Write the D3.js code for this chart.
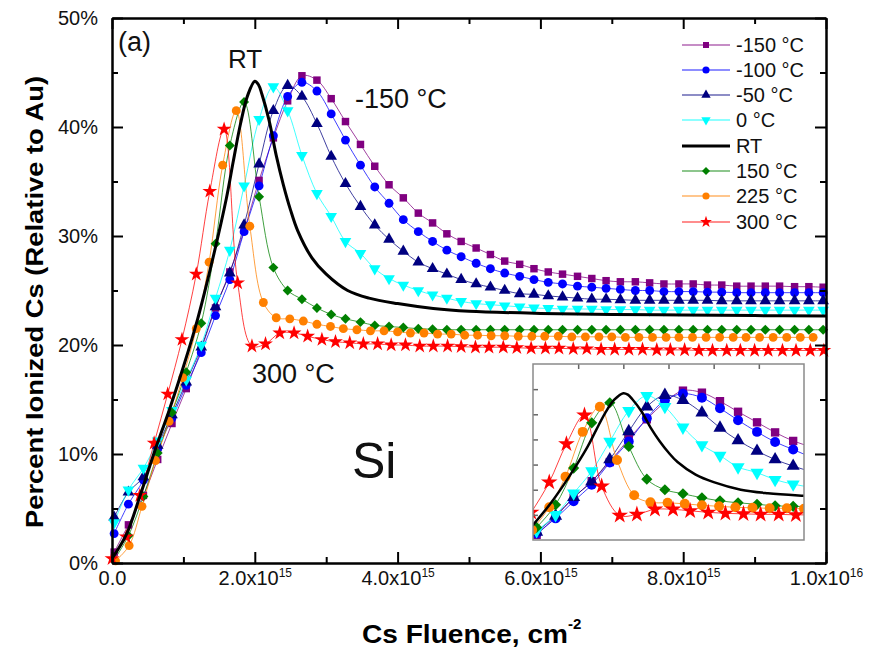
<!DOCTYPE html>
<html>
<head>
<meta charset="utf-8">
<script src="https://cdn.jsdelivr.net/npm/d3@7"></script>
<style>
body { margin: 0; background: #fff; }
svg { display: block; font-family: "Liberation Sans", Arial, sans-serif; }
</style>
</head>
<body>
<script>
// fluence values in units of 1e15 cm^-2
var fluenceA = [0.03,0.23,0.44,0.64,0.84,1.04,1.25,1.45,1.65,1.85,2.06,2.26,2.46,2.66,2.87,3.07,3.27,3.48,3.68,3.88,
  4.08,4.29,4.49,4.69,4.89,5.10,5.30,5.50,5.71,5.91,6.11,6.31,6.52,6.72,6.92,7.12,7.33,7.53,7.73,7.94,
  8.14,8.34,8.54,8.75,8.95,9.15,9.35,9.56,9.76,9.96];
var fluence225 = [0.05,0.24,0.42,0.61,0.80,0.99,1.18,1.36,1.55,1.74,1.93,2.12,2.30,2.49,2.68,2.87,3.06,3.24,3.43,3.62,
  3.81,4.00,4.18,4.37,4.56,4.75,4.94,5.12,5.31,5.50,5.69,5.88,6.06,6.25,6.44,6.63,6.82,7.00,7.19,7.38,
  7.57,7.76,7.94,8.13,8.32,8.51,8.70,8.88,9.07,9.26,9.45,9.64,9.82];
var fluence300 = [0.00,0.20,0.39,0.59,0.78,0.98,1.18,1.37,1.57,1.76,1.96,2.15,2.35,2.55,2.74,2.94,3.13,3.33,3.52,3.72,
  3.91,4.11,4.31,4.50,4.70,4.89,5.09,5.28,5.48,5.67,5.87,6.07,6.26,6.46,6.65,6.85,7.04,7.24,7.43,7.63,
  7.82,8.02,8.22,8.41,8.61,8.80,9.00,9.19,9.39,9.58,9.78,9.97];
var fluenceRT = [0,0.2,0.4,0.6,0.8,1.0,1.2,1.4,1.6,1.7,1.8,1.9,2.0,2.05,2.1,2.2,2.3,2.4,2.5,2.6,2.8,3.0,3.3,3.6,4.0,4.5,5.0,6.0,7.0,8.0,9.0,10.0];

// percent ionized Cs
var pctM150 = [1.0,3.5,6.2,9.5,12.8,16.0,19.6,23.4,26.7,30.5,35.1,39.0,42.4,44.7,44.3,42.6,40.5,38.4,36.4,34.7,
  33.5,32.1,31.2,30.2,29.5,28.9,28.3,27.7,27.4,27.0,26.7,26.5,26.3,26.1,25.9,25.8,25.8,25.7,25.6,25.6,
  25.6,25.5,25.5,25.4,25.4,25.4,25.4,25.35,25.35,25.3];
var pctM100 = [2.7,5.4,7.6,10.5,13.3,16.3,19.3,22.7,26.0,30.4,34.6,39.2,42.8,44.1,43.3,41.2,38.8,36.5,34.5,33.0,
  31.5,30.4,29.5,28.7,28.1,27.5,27.0,26.6,26.3,26.0,25.75,25.6,25.4,25.3,25.2,25.1,25.0,25.0,24.9,24.9,
  24.9,24.85,24.85,24.8,24.8,24.8,24.8,24.8,24.8,24.8];
var pctM50 = [4.2,6.5,7.9,10.8,13.6,16.6,19.8,23.5,26.6,31.0,36.6,41.5,43.8,42.8,40.3,37.3,34.8,32.7,31.0,29.7,
  28.6,27.6,27.0,26.5,26.0,25.6,25.3,25.0,24.7,24.65,24.5,24.4,24.3,24.2,24.2,24.15,24.1,24.1,24.1,24.1,
  24.1,24.1,24.05,24.05,24.05,24.05,24.05,24.05,24.05,24.05];
var pct0 = [3.7,6.7,8.7,11.2,14.0,16.8,20.0,24.3,28.7,34.6,40.7,43.7,41.5,37.4,33.9,31.8,29.5,28.4,27.0,26.1,
  25.5,25.0,24.6,24.3,24.0,23.8,23.7,23.6,23.5,23.4,23.35,23.3,23.3,23.3,23.25,23.25,23.25,23.2,23.2,23.2,
  23.2,23.2,23.2,23.2,23.2,23.2,23.2,23.2,23.2,23.2];
var pctRT = [0.4,2.6,6.3,10.3,14.0,18.0,22.4,27.6,33.4,36.9,40.3,42.9,44.2,43.9,43.0,40.6,37.4,34.7,32.4,30.5,
  28.0,26.5,25.0,24.3,23.8,23.35,23.1,22.9,22.8,22.75,22.7,22.65];
var pct150 = [0.3,2.5,6.1,10.1,13.8,17.5,22.0,29.3,38.3,42.3,33.6,27.1,25.0,24.2,23.4,22.8,22.4,22.1,21.8,21.7,
  21.6,21.5,21.45,21.4,21.4,21.4,21.4,21.4,21.4,21.4,21.4,21.4,21.4,21.4,21.4,21.4,21.4,21.4,21.4,21.4,
  21.4,21.4,21.4,21.4,21.4,21.4,21.4,21.4,21.4,21.4];
var pct225 = [0.2,1.6,5.2,9.4,13.0,17.0,21.5,27.6,36.5,41.5,30.9,23.9,22.5,22.4,22.2,21.9,21.7,21.5,21.4,21.3,
  21.3,21.2,21.1,21.1,21.0,21.0,20.9,20.9,20.85,20.85,20.8,20.8,20.8,20.8,20.75,20.75,20.75,20.75,20.7,20.7,
  20.7,20.7,20.7,20.7,20.7,20.7,20.7,20.7,20.7,20.7,20.7,20.7,20.7];
var pct300 = [0.4,2.4,6.2,11.0,15.5,20.5,26.5,34.1,39.8,25.7,19.9,20.1,21.1,21.1,20.8,20.5,20.3,20.2,20.1,20.1,
  20.0,20.0,19.9,19.9,19.9,19.85,19.8,19.8,19.8,19.75,19.7,19.7,19.7,19.65,19.65,19.6,19.6,19.6,19.6,19.55,
  19.55,19.55,19.5,19.5,19.5,19.5,19.5,19.5,19.5,19.5,19.5,19.5];

var seriesNames = ["-150 °C","-100 °C","-50 °C","0 °C","RT","150 °C","225 °C","300 °C"];

// axis ticks
var yTicks = [0,10,20,30,40,50];
var yMinor = [5,15,25,35,45];
var xTicks = [0,2,4,6,8,10];
var xMinor = [1,3,5,7,9];
var xTickBase = ["0.0","2.0x10","4.0x10","6.0x10","8.0x10","1.0x10"];
var xTickExp = ["","15","15","15","15","16"];
var insetXTicks = [1.5,2,2.5,3,3.5];
var insetYTicks = [20,25,30,35,40,45];

var w = 872, h = 655;
var svg = d3.select("body").append("svg")
  .attr("width", w)
  .attr("height", h)
  .style("background-color", "white");

var x = d3.scaleLinear().domain([0, 10]).range([112, 826]);
var y = d3.scaleLinear().domain([0, 50]).range([563, 18]);

var series = [
  {fl: fluenceA,   val: pctM150, color: "#800080", sym: "square"},
  {fl: fluenceA,   val: pctM100, color: "#0000ff", sym: "circle"},
  {fl: fluenceA,   val: pctM50,  color: "#000080", sym: "tri"},
  {fl: fluenceA,   val: pct0,    color: "#00ffff", sym: "tridown"},
  {fl: fluenceRT,  val: pctRT,   color: "#000000", sym: null},
  {fl: fluenceA,   val: pct150,  color: "#008000", sym: "diamond"},
  {fl: fluence225, val: pct225,  color: "#ff8000", sym: "circle"},
  {fl: fluence300, val: pct300,  color: "#ff0000", sym: "star"}
];
series.forEach(function(s, i){
  s.name = seriesNames[i];
  s.pts = s.fl.map(function(f, j){ return [f, s.val[j]]; });
});

function symPath(type, size){
  if (type == "square" ) return d3.symbol(d3.symbolSquare, size*0.9)();
  if (type == "circle") return d3.symbol(d3.symbolCircle, size)();
  if (type == "tri" || type == "tridown") return d3.symbol(d3.symbolTriangle, size*0.95)();
  if (type == "diamond") return d3.symbol(d3.symbolSquare, size*0.8)();
  if (type == "star") return d3.symbol(d3.symbolStar, size*1.1)();
}
function symRot(type){
  if (type == "tridown") return 180;
  if (type == "diamond") return 45;
  return 0;
}

// draw lines + markers for given scales into a group
function drawSeries(g, sx, sy, msize, rtWidth){
  var line = d3.line()
    .x(function(d){ return sx(d[0]); })
    .y(function(d){ return sy(d[1]); })
    .curve(d3.curveCatmullRom.alpha(0.5));
  // thin lines first, then markers, RT on top
  series.forEach(function(s){
    if (!s.sym) return;
    g.append("path")
      .attr("d", line(s.pts))
      .attr("fill", "none")
      .attr("stroke", s.color)
      .attr("stroke-opacity", 0.75)
      .attr("stroke-width", 1);
  });
  series.forEach(function(s){
    if (!s.sym) return;
    g.selectAll(null)
      .data(s.pts)
      .join("path")
      .attr("d", symPath(s.sym, msize))
      .attr("transform", function(d){
        return "translate(" + sx(d[0]) + "," + sy(d[1]) + ") rotate(" + symRot(s.sym) + ")";
      })
      .attr("fill", s.color);
  });
  var rt = series[4];
  g.append("path")
    .attr("d", line(rt.pts))
    .attr("fill", "none")
    .attr("stroke", "black")
    .attr("stroke-width", rtWidth);
}

// ---- main plot ----
var plot = svg.append("g");
drawSeries(plot, x, y, 62, 3);

// axes, ticks pointing inward
var gx = svg.append("g").attr("transform", "translate(0,563)")
  .call(d3.axisBottom(x).tickValues(xTicks).tickSize(-11).tickSizeOuter(0).tickPadding(8)
    .tickFormat(function(d, i){ return xTickBase[i]; }));
gx.selectAll(".tick text").each(function(d, i){
  var t = d3.select(this);
  t.text(null);
  t.append("tspan").text(xTickBase[i]);
  if (xTickExp[i]) t.append("tspan").attr("dy", "-0.65em").attr("font-size", "12px").text(xTickExp[i]);
});
svg.append("g").attr("transform", "translate(0,563)")
  .call(d3.axisBottom(x).tickValues(xMinor).tickSize(-6).tickSizeOuter(0).tickFormat(""));
svg.append("g").attr("transform", "translate(0,18)")
  .call(d3.axisTop(x).tickValues(xTicks).tickSize(-11).tickSizeOuter(0).tickFormat(""));
svg.append("g").attr("transform", "translate(0,18)")
  .call(d3.axisTop(x).tickValues(xMinor).tickSize(-6).tickSizeOuter(0).tickFormat(""));

svg.append("g").attr("transform", "translate(112,0)")
  .call(d3.axisLeft(y).tickValues(yTicks).tickSize(-11).tickSizeOuter(0).tickPadding(14)
    .tickFormat(function(d){ return d + "%"; }));
svg.append("g").attr("transform", "translate(112,0)")
  .call(d3.axisLeft(y).tickValues(yMinor).tickSize(-6).tickSizeOuter(0).tickFormat(""));
svg.append("g").attr("transform", "translate(826,0)")
  .call(d3.axisRight(y).tickValues(yTicks).tickSize(-11).tickSizeOuter(0).tickFormat(""));
svg.append("g").attr("transform", "translate(826,0)")
  .call(d3.axisRight(y).tickValues(yMinor).tickSize(-6).tickSizeOuter(0).tickFormat(""));

svg.selectAll(".domain").attr("stroke-width", 2);
svg.selectAll(".tick line").attr("stroke-width", 2);
svg.selectAll(".tick text")
  .attr("font-family", "Liberation Sans, Arial, sans-serif")
  .attr("font-size", 20)
  .attr("fill", "#111");

// axis titles
svg.append("text")
  .attr("transform", "translate(43,302) rotate(-90)")
  .attr("text-anchor", "middle")
  .attr("font-weight", "bold")
  .attr("font-size", 24)
  .attr("textLength", 452)
  .attr("lengthAdjust", "spacingAndGlyphs")
  .text("Percent Ionized Cs (Relative to Au)");
var xt = svg.append("text")
  .attr("x", 362)
  .attr("y", 643)
  .attr("font-weight", "bold")
  .attr("font-size", 25);
xt.append("tspan").attr("textLength", 206).attr("lengthAdjust", "spacingAndGlyphs").text("Cs Fluence, cm");
xt.append("tspan").attr("dy", -14).attr("font-size", 15).text("-2");

// annotations
var notes = [["(a)", 118, 51, 27], ["RT", 228, 68, 26], ["-150 °C", 355, 108, 27], ["300 °C", 252, 383, 27], ["Si", 352, 478, 50]];
svg.selectAll(".note")
  .data(notes)
  .join("text")
  .attr("class", "note")
  .attr("x", function(d){ return d[1]; })
  .attr("y", function(d){ return d[2]; })
  .attr("font-size", function(d){ return d[3]; })
  .attr("fill", "#111")
  .text(function(d){ return d[0]; });

// legend
var legendY = [45,70,95,120,146,171,196,222];
var lg = svg.selectAll(".leg")
  .data(series)
  .join("g")
  .attr("class", "leg")
  .attr("transform", function(d, i){ return "translate(682," + legendY[i] + ")"; });
lg.append("line")
  .attr("x1", 0).attr("x2", 48)
  .attr("stroke", function(d){ return d.color; })
  .attr("stroke-opacity", function(d){ return d.sym ? 0.6 : 1; })
  .attr("stroke-width", function(d){ return d.sym ? 1.5 : 3; });
lg.filter(function(d){ return d.sym; })
  .append("path")
  .attr("d", function(d){ return symPath(d.sym, 40); })
  .attr("transform", function(d){ return "translate(24,0) rotate(" + symRot(d.sym) + ")"; })
  .attr("fill", function(d){ return d.color; });
lg.append("text")
  .attr("x", 54)
  .attr("y", 7)
  .attr("font-size", 20)
  .attr("fill", "#111")
  .text(function(d){ return d.name; });

// ---- inset ----
var xi = d3.scaleLinear().domain([1, 4]).range([533, 804]);
var yi = d3.scaleLinear().domain([15, 50]).range([540, 364]);
svg.append("clipPath").attr("id", "insetClip")
  .append("rect").attr("x", 533).attr("y", 364).attr("width", 271).attr("height", 176);
svg.append("rect")
  .attr("x", 533).attr("y", 364).attr("width", 271).attr("height", 176)
  .attr("fill", "white");
var inset = svg.append("g").attr("clip-path", "url(#insetClip)");
drawSeries(inset, xi, yi, 78, 2.5);
svg.append("g").attr("class", "insetAxis").attr("transform", "translate(533,0)")
  .call(d3.axisLeft(yi).tickValues(insetYTicks).tickSize(-5).tickSizeOuter(0).tickFormat(""));
svg.append("g").attr("class", "insetAxis").attr("transform", "translate(0,364)")
  .call(d3.axisTop(xi).tickValues(insetXTicks).tickSize(-5).tickSizeOuter(0).tickFormat(""));
svg.selectAll(".insetAxis .domain").remove();
svg.selectAll(".insetAxis line").attr("stroke", "#666").attr("stroke-width", 1.5);
svg.append("rect")
  .attr("x", 533).attr("y", 364).attr("width", 271).attr("height", 176)
  .attr("fill", "none")
  .attr("stroke", "#8a8a8a")
  .attr("stroke-width", 1.5);
</script>
</body>
</html>
